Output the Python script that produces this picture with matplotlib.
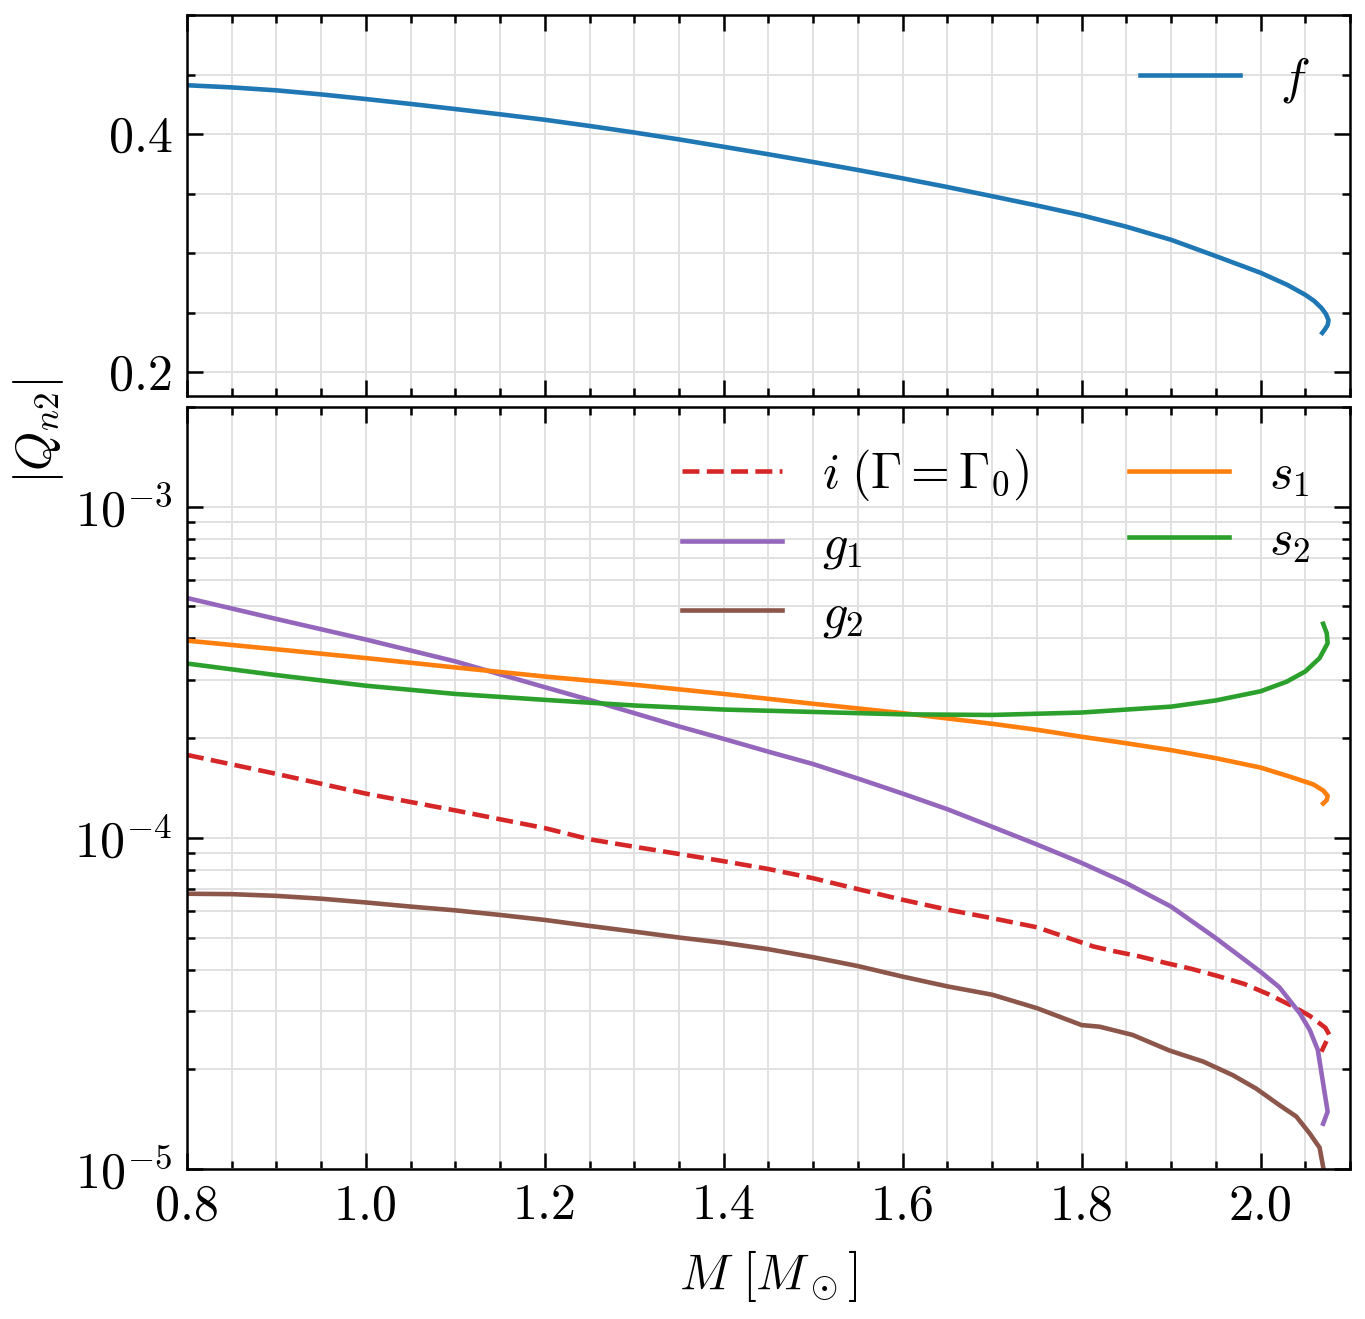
import matplotlib
matplotlib.use("Agg")
import matplotlib.pyplot as plt
from matplotlib.ticker import MultipleLocator, LogLocator, NullFormatter

plt.rcParams["font.family"] = "serif"
plt.rcParams["font.serif"] = ["cmr10"]
plt.rcParams["mathtext.fontset"] = "cm"
plt.rcParams["axes.formatter.use_mathtext"] = True
plt.rcParams["axes.unicode_minus"] = False
plt.rcParams["font.size"] = 12

# f mode (top panel)
m_f = [0.80, 0.85, 0.90, 0.95, 1.00, 1.05, 1.10, 1.15, 1.20, 1.25, 1.30, 1.35, 1.40, 1.45,
       1.50, 1.55, 1.60, 1.65, 1.70, 1.75, 1.80, 1.85, 1.90, 1.95, 2.00, 2.03, 2.05,
       2.060, 2.068, 2.073, 2.076, 2.075, 2.072, 2.069]
q_f = [0.441, 0.4392, 0.4367, 0.4333, 0.4294, 0.4253, 0.4210, 0.4166, 0.4120, 0.4068, 0.4013, 0.3955, 0.3893, 0.3830,
       0.3765, 0.3698, 0.3628, 0.3555, 0.3478, 0.3400, 0.3318, 0.3222, 0.3112, 0.2975, 0.2835, 0.2733, 0.2650,
       0.2598, 0.2540, 0.2490, 0.2437, 0.2395, 0.2360, 0.2330]

# i mode (Gamma = Gamma_0)
m_i = [0.80, 0.90, 1.00, 1.10, 1.20, 1.25, 1.30, 1.40, 1.45, 1.50, 1.55, 1.60, 1.65, 1.70,
       1.75, 1.813, 1.834, 1.864, 1.894, 1.923, 1.953, 1.982, 2.010, 2.038, 2.055, 2.0725, 2.077, 2.068]
q_i = [1.78e-4, 1.56e-4, 1.36e-4, 1.21e-4, 1.07e-4, 9.9e-5, 9.4e-5, 8.5e-5, 8.05e-5, 7.55e-5, 7.0e-5, 6.5e-5, 6.07e-5, 5.72e-5,
       5.37e-5, 4.7e-5, 4.56e-5, 4.39e-5, 4.19e-5, 4.02e-5, 3.82e-5, 3.62e-5, 3.36e-5, 3.08e-5, 2.9e-5, 2.67e-5, 2.54e-5, 2.26e-5]

# g1 mode
m_g1 = [0.80, 0.90, 1.00, 1.10, 1.20, 1.25, 1.30, 1.35, 1.40, 1.45, 1.50, 1.55, 1.60, 1.65,
        1.70, 1.75, 1.80, 1.85, 1.90, 1.95, 2.00, 2.021, 2.044, 2.055, 2.064, 2.075, 2.070]
q_g1 = [5.3e-4, 4.58e-4, 3.97e-4, 3.41e-4, 2.85e-4, 2.61e-4, 2.38e-4, 2.17e-4, 1.99e-4, 1.82e-4, 1.67e-4, 1.51e-4, 1.36e-4, 1.22e-4,
        1.08e-4, 9.55e-5, 8.4e-5, 7.3e-5, 6.2e-5, 4.98e-5, 3.94e-5, 3.54e-5, 2.95e-5, 2.63e-5, 2.29e-5, 1.49e-5, 1.37e-5]

# g2 mode
m_g2 = [0.80, 0.85, 0.90, 0.95, 1.00, 1.05, 1.10, 1.15, 1.20, 1.25, 1.30, 1.35, 1.40, 1.45, 1.50,
        1.55, 1.60, 1.65, 1.70, 1.75, 1.80, 1.82, 1.857, 1.898, 1.936, 1.969, 1.995, 2.021, 2.040,
        2.055, 2.066, 2.071]
q_g2 = [6.78e-5, 6.76e-5, 6.68e-5, 6.55e-5, 6.38e-5, 6.20e-5, 6.04e-5, 5.85e-5, 5.65e-5, 5.42e-5, 5.21e-5, 5.0e-5, 4.82e-5, 4.61e-5, 4.36e-5,
        4.10e-5, 3.81e-5, 3.56e-5, 3.36e-5, 3.06e-5, 2.72e-5, 2.69e-5, 2.54e-5, 2.28e-5, 2.11e-5, 1.92e-5, 1.75e-5, 1.56e-5, 1.44e-5,
        1.28e-5, 1.16e-5, 0.98e-5]

# s1 mode
m_s1 = [0.80, 0.90, 1.00, 1.10, 1.20, 1.30, 1.40, 1.50, 1.60, 1.70, 1.75, 1.80, 1.85, 1.90, 1.95,
        2.00, 2.033, 2.059, 2.070, 2.075, 2.074, 2.070]
q_s1 = [3.94e-4, 3.71e-4, 3.49e-4, 3.27e-4, 3.07e-4, 2.90e-4, 2.72e-4, 2.54e-4, 2.38e-4, 2.21e-4, 2.12e-4, 2.02e-4, 1.93e-4, 1.84e-4, 1.74e-4,
        1.63e-4, 1.53e-4, 1.45e-4, 1.39e-4, 1.34e-4, 1.30e-4, 1.27e-4]

# s2 mode
m_s2 = [0.80, 0.90, 1.00, 1.10, 1.20, 1.30, 1.40, 1.50, 1.60, 1.70, 1.75, 1.80, 1.85, 1.90, 1.95,
        2.00, 2.029, 2.05, 2.066, 2.075, 2.074, 2.070]
q_s2 = [3.36e-4, 3.10e-4, 2.88e-4, 2.72e-4, 2.61e-4, 2.51e-4, 2.44e-4, 2.40e-4, 2.36e-4, 2.35e-4, 2.37e-4, 2.39e-4, 2.44e-4, 2.49e-4, 2.60e-4,
        2.77e-4, 2.96e-4, 3.18e-4, 3.49e-4, 3.87e-4, 4.15e-4, 4.43e-4]

W, H = 1365, 1319
fig = plt.figure(figsize=(W / 300, H / 300), dpi=300)
ax1 = fig.add_axes([187 / W, 1 - 396 / H, 1163 / W, 381 / H])
ax2 = fig.add_axes([187 / W, 1 - 1169 / H, 1163 / W, 762 / H], sharex=ax1)

lw = 1.1
ax1.plot(m_f, q_f, color="#1f77b4", lw=lw, label=r"$f$")

ax2.plot(m_i, q_i, color="#d62728", lw=lw, ls="--", label=r"$i\;(\Gamma=\Gamma_0)$")
ax2.plot(m_g1, q_g1, color="#9467bd", lw=lw, label=r"$g_1$")
ax2.plot(m_g2, q_g2, color="#8c564b", lw=lw, label=r"$g_2$")
ax2.plot(m_s1, q_s1, color="#ff7f0e", lw=lw, label=r"$s_1$")
ax2.plot(m_s2, q_s2, color="#2ca02c", lw=lw, label=r"$s_2$")

ax2.set_yscale("log")
ax2.set_ylim(1e-5, 2e-3)
ax1.set_ylim(0.18, 0.5)
ax1.set_xlim(0.8, 2.1)

ax1.yaxis.set_major_locator(MultipleLocator(0.2))
ax1.yaxis.set_minor_locator(MultipleLocator(0.05))
ax2.xaxis.set_major_locator(MultipleLocator(0.2))
ax2.xaxis.set_minor_locator(MultipleLocator(0.05))
ax2.yaxis.set_major_locator(LogLocator(base=10, numticks=10))
ax2.yaxis.set_minor_locator(LogLocator(base=10, subs=range(2, 10), numticks=20))
ax2.yaxis.set_minor_formatter(NullFormatter())
ax2.xaxis.set_major_formatter(matplotlib.ticker.FormatStrFormatter("%.1f"))
ax1.yaxis.set_major_formatter(matplotlib.ticker.FormatStrFormatter("%.1f"))
plt.setp(ax1.get_xticklabels(), visible=False)

for ax in (ax1, ax2):
    for s in ax.spines.values():
        s.set_linewidth(0.6)
    ax.tick_params(which="both", direction="in", top=True, right=True, width=0.6)
    ax.tick_params(which="major", length=3.8, labelsize=12)
    ax.tick_params(which="minor", length=2.0)
    ax.grid(which="both", color="0.88", lw=0.45)
    ax.set_axisbelow(True)

ax1.legend(loc="upper right", frameon=False, fontsize=12, borderaxespad=0.4)
ax2.legend(loc="upper right", frameon=False, fontsize=12, ncol=2,
           labelspacing=0.4, borderaxespad=0.4)

ax2.set_xlabel(r"$M\ [M_\odot]$", fontsize=12, labelpad=4.5)
fig.text(39 / W, 1 - 431 / H, r"$|Q_{n2}|$", rotation=90, ha="center", va="center", fontsize=12)

fig.savefig("out.png", dpi=300)
